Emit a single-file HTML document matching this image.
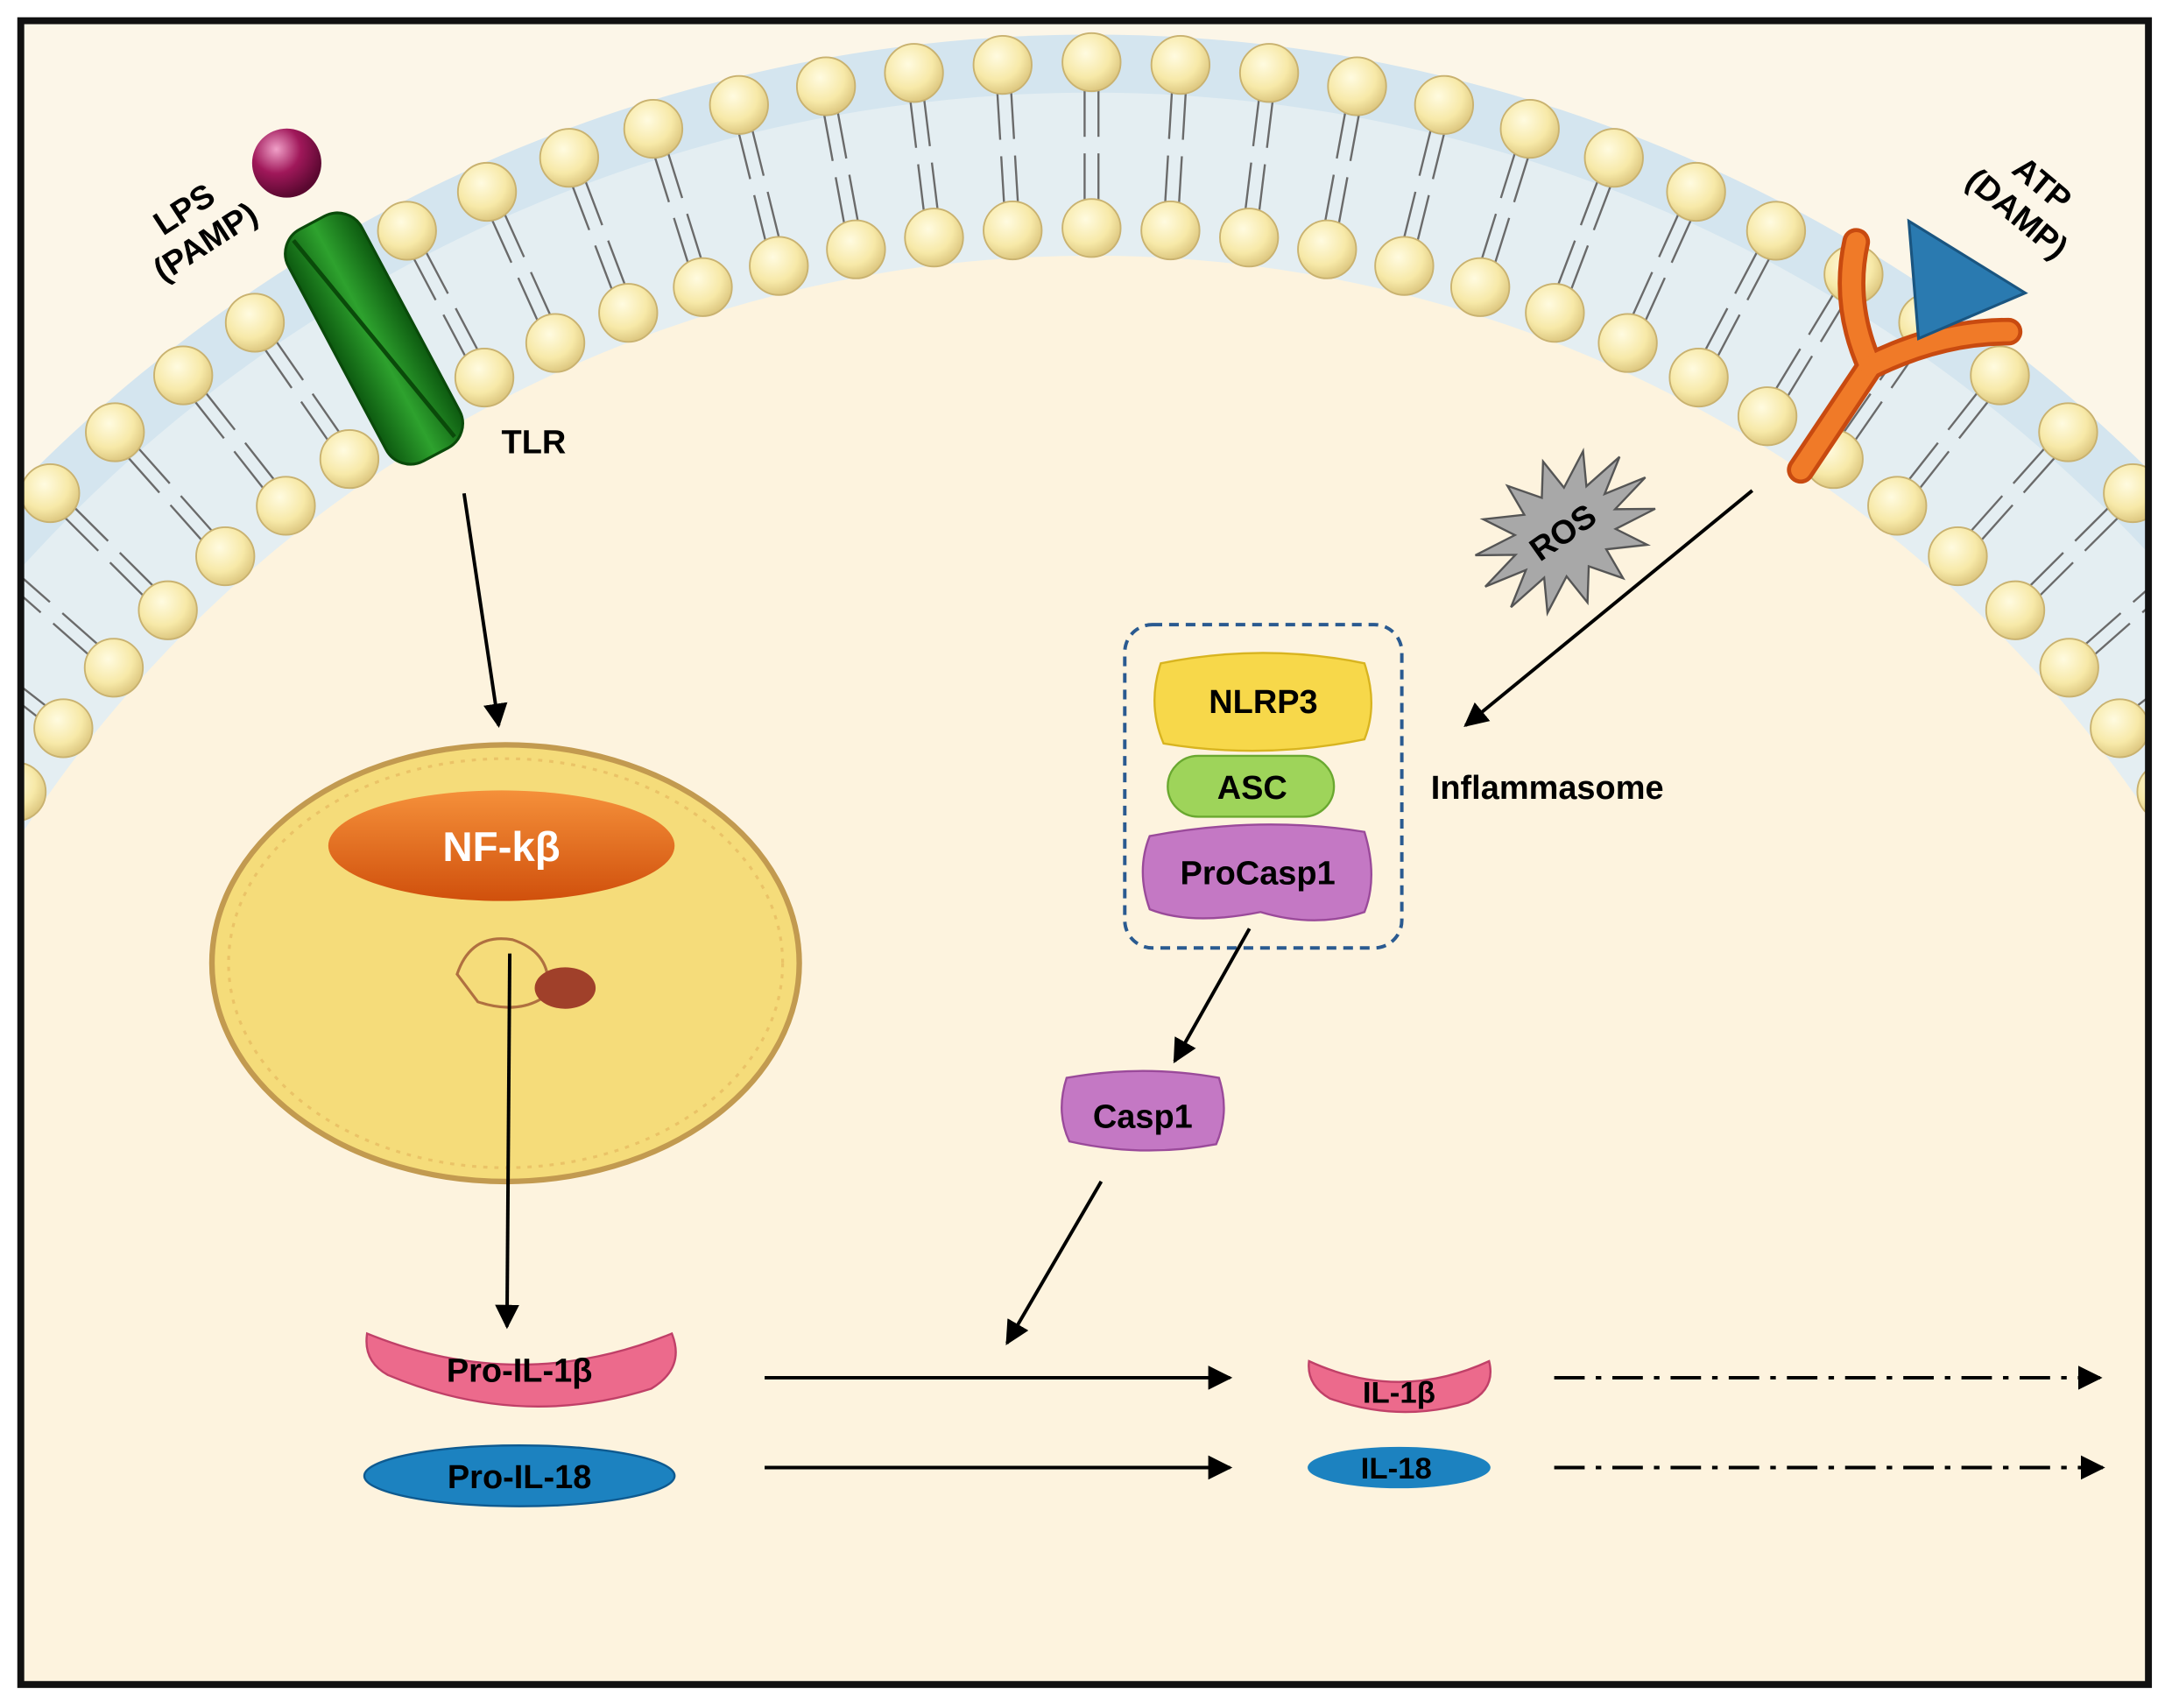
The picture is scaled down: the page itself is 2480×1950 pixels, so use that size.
<!DOCTYPE html>
<html><head><meta charset="utf-8"><style>
html,body{margin:0;padding:0;background:#fff;overflow:hidden;width:2480px;height:1950px;}
svg{display:block;}
text{font-family:"Liberation Sans",sans-serif;font-weight:bold;}
</style></head><body>
<svg id="s" width="2480" height="1950" viewBox="0 0 1568 1236" preserveAspectRatio="none" xmlns="http://www.w3.org/2000/svg">
<defs>
<clipPath id="fr"><rect x="16" y="16" width="1534" height="1202"/></clipPath>
<radialGradient id="head" cx="0.4" cy="0.35" r="0.7"><stop offset="0" stop-color="#fffbe0"/><stop offset="0.6" stop-color="#f7e9a8"/><stop offset="1" stop-color="#d9c27a"/></radialGradient>
<radialGradient id="lps" cx="0.35" cy="0.3" r="0.7"><stop offset="0" stop-color="#f0a0c8"/><stop offset="0.5" stop-color="#a0185a"/><stop offset="1" stop-color="#5a0830"/></radialGradient>
<linearGradient id="grn" x1="0" x2="1"><stop offset="0" stop-color="#0d5a10"/><stop offset="0.5" stop-color="#2ea22e"/><stop offset="1" stop-color="#0d5a10"/></linearGradient>
<linearGradient id="nf" x1="0" y1="0" x2="0" y2="1"><stop offset="0" stop-color="#f5903a"/><stop offset="1" stop-color="#d0500c"/></linearGradient>
<marker id="ar" viewBox="0 0 10 10" refX="9" refY="5" markerWidth="7" markerHeight="7" orient="auto"><path d="M0,0 L10,5 L0,10 z" fill="#000"/></marker>
</defs>
<rect width="1568" height="1236" fill="#fff"/>
<g clip-path="url(#fr)">
<rect x="0" y="0" width="1568" height="1236" fill="#fcf6e8"/>
<circle cx="788" cy="1107" r="1082" fill="#d4e5ef"/>
<circle cx="788" cy="1107" r="1040" fill="#e4eef2"/>
<circle cx="788" cy="1107" r="922" fill="#fdf3de"/>
<g id="mem"></g>
</g>
<rect x="15" y="15" width="1536" height="1204" fill="none" stroke="#111" stroke-width="5"/>

<circle cx="207" cy="118" r="25" fill="url(#lps)"/>
<g transform="translate(270,245) rotate(-28)">
<rect x="-30" y="-95" width="60" height="190" rx="20" fill="url(#grn)" stroke="#0a4a0a" stroke-width="2"/>
<path d="M-18,-90 L18,90" stroke="#0a4a0a" stroke-width="3"/>
</g>
<text x="145" y="170" font-size="24" text-anchor="middle" transform="rotate(-33 145 170)"><tspan x="145" dy="-14">LPS</tspan><tspan x="145" dy="28">(PAMP)</tspan></text>
<text x="362" y="328" font-size="24">TLR</text>
<line x1="335" y1="357" x2="360" y2="525" stroke="#000" stroke-width="2.5" marker-end="url(#ar)"/>

<ellipse cx="365" cy="697" rx="212" ry="158" fill="#f5dc7a" stroke="#c29a50" stroke-width="4"/>
<ellipse cx="365" cy="697" rx="200" ry="148" fill="none" stroke="#e6b860" stroke-width="2" stroke-dasharray="3 5" opacity="0.7"/>
<path d="M330,705 q10,-30 40,-25 q30,10 25,40 q-20,15 -50,5 z" fill="none" stroke="#b07040" stroke-width="2"/>
<ellipse cx="408" cy="715" rx="22" ry="15" fill="#a0402a"/>
<ellipse cx="362" cy="612" rx="125" ry="40" fill="url(#nf)"/>
<text x="362" y="623" font-size="30" text-anchor="middle" fill="#fff" font-weight="normal">NF-kβ</text>
<line x1="368" y1="690" x2="366" y2="960" stroke="#000" stroke-width="2.5" marker-end="url(#ar)"/>

<path d="M265,965 Q375,1010 485,965 Q495,990 470,1005 Q375,1035 280,995 Q262,985 265,965 z" fill="#ec6a8c" stroke="#c04068" stroke-width="1.5"/>
<text x="375" y="1000" font-size="24" text-anchor="middle">Pro-IL-1β</text>
<ellipse cx="375" cy="1068" rx="112" ry="22" fill="#1c82c0" stroke="#0e5a90" stroke-width="1.5"/>
<text x="375" y="1077" font-size="24" text-anchor="middle">Pro-IL-18</text>
<line x1="552" y1="997" x2="888" y2="997" stroke="#000" stroke-width="2.5" marker-end="url(#ar)"/>
<line x1="552" y1="1062" x2="888" y2="1062" stroke="#000" stroke-width="2.5" marker-end="url(#ar)"/>
<path d="M945,985 Q1010,1015 1075,985 Q1080,1005 1060,1015 Q1010,1030 960,1012 Q943,1002 945,985 z" fill="#ec6a8c" stroke="#c04068" stroke-width="1.5"/>
<text x="1010" y="1015" font-size="22" text-anchor="middle">IL-1β</text>
<ellipse cx="1010" cy="1062" rx="66" ry="15" fill="#1c82c0"/>
<text x="1008" y="1070" font-size="22" text-anchor="middle">IL-18</text>
<line x1="1122" y1="997" x2="1516" y2="997" stroke="#000" stroke-width="2.5" stroke-dasharray="22 8 4 8" marker-end="url(#ar)"/>
<line x1="1122" y1="1062" x2="1518" y2="1062" stroke="#000" stroke-width="2.5" stroke-dasharray="22 8 4 8" marker-end="url(#ar)"/>

<rect x="812" y="452" width="200" height="234" rx="20" fill="none" stroke="#2a5a90" stroke-width="2.5" stroke-dasharray="7 5"/>
<path d="M838,480 Q912,465 985,480 Q995,510 985,535 Q912,550 840,538 Q828,510 838,480 z" fill="#f7d84a" stroke="#d8b420" stroke-width="1.5"/>
<text x="912" y="516" font-size="24" text-anchor="middle">NLRP3</text>
<rect x="843" y="547" width="120" height="44" rx="22" fill="#9ed45a" stroke="#6aa830" stroke-width="1.5"/>
<text x="904" y="578" font-size="24" text-anchor="middle">ASC</text>
<path d="M830,605 Q910,590 985,602 Q995,635 985,660 Q950,672 910,660 Q860,670 830,658 Q820,630 830,605 z" fill="#c478c4" stroke="#9a4a9a" stroke-width="1.5"/>
<text x="908" y="640" font-size="24" text-anchor="middle">ProCasp1</text>
<text x="1033" y="578" font-size="24">Inflammasome</text>
<line x1="902" y1="672" x2="848" y2="768" stroke="#000" stroke-width="2.5" marker-end="url(#ar)"/>
<path d="M770,780 Q825,770 880,780 Q888,805 878,828 Q825,838 772,826 Q762,805 770,780 z" fill="#c478c4" stroke="#9a4a9a" stroke-width="1.5"/>
<text x="825" y="816" font-size="24" text-anchor="middle">Casp1</text>
<line x1="795" y1="855" x2="727" y2="972" stroke="#000" stroke-width="2.5" marker-end="url(#ar)"/>

<path id="ros" fill="#a8a8a8" stroke="#555" stroke-width="1.5"/>
<text x="1133" y="392" font-size="24" text-anchor="middle" transform="rotate(-35 1133 392)">ROS</text>
<line x1="1265" y1="355" x2="1058" y2="525" stroke="#000" stroke-width="2.5" marker-end="url(#ar)"/>

<path d="M1300,340 L1350,265 Q1330,220 1340,175" fill="none" stroke="#c84a10" stroke-width="20" stroke-linecap="round" stroke-linejoin="round"/>
<path d="M1350,265 Q1400,240 1450,240" fill="none" stroke="#c84a10" stroke-width="20" stroke-linecap="round"/>
<path d="M1300,340 L1350,265 Q1330,220 1340,175" fill="none" stroke="#f07a28" stroke-width="14" stroke-linecap="round" stroke-linejoin="round"/>
<path d="M1350,265 Q1400,240 1450,240" fill="none" stroke="#f07a28" stroke-width="14" stroke-linecap="round"/>
<path d="M1378,160 L1462,212 L1385,245 z" fill="#2a7ab0" stroke="#1a5580" stroke-width="2"/>
<text x="1460" y="150" font-size="24" text-anchor="middle" transform="rotate(40 1460 150)"><tspan x="1460" dy="-14">ATP</tspan><tspan x="1460" dy="28">(DAMP)</tspan></text>
</svg>
<script>
(function(){
var NS="http://www.w3.org/2000/svg",g=document.getElementById("mem");
var cx=788,cy=1107,step=0.0605;
function el(n,a){var e=document.createElementNS(NS,n);for(var k in a)e.setAttribute(k,a[k]);g.appendChild(e);}
function row(R,tailDir){
 for(var i=-17;i<=17;i++){
  var a=-Math.PI/2+i*step;
  var x=cx+R*Math.cos(a),y=cy+R*Math.sin(a);
  var dx=Math.cos(a),dy=Math.sin(a);
  var t1=R+tailDir*18,t2=R+tailDir*54;
  [-5,5].forEach(function(o){
   var px=-dy*o,py=dx*o;
   el("line",{x1:cx+t1*dx+px,y1:cy+t1*dy+py,x2:cx+t2*dx+px,y2:cy+t2*dy+py,stroke:"#6a6a6a","stroke-width":"1.5"});
  });
  el("circle",{cx:x,cy:y,r:21,fill:"url(#head)",stroke:"#c9b270","stroke-width":"1.2"});
 }
}
row(1062,-1);
row(942,1);
var p="",n=14,c=[1130,385];
for(var i=0;i<n*2;i++){var r=i%2?40:70,an=i*Math.PI/n;
 var x=r*Math.cos(an),y=r*0.75*Math.sin(an);var ca=Math.cos(-0.6),sa=Math.sin(-0.6);
 p+=(i?"L":"M")+(c[0]+x*ca-y*sa)+","+(c[1]+x*sa+y*ca);}
document.getElementById("ros").setAttribute("d",p+"z");
})();
</script>
</body></html>
